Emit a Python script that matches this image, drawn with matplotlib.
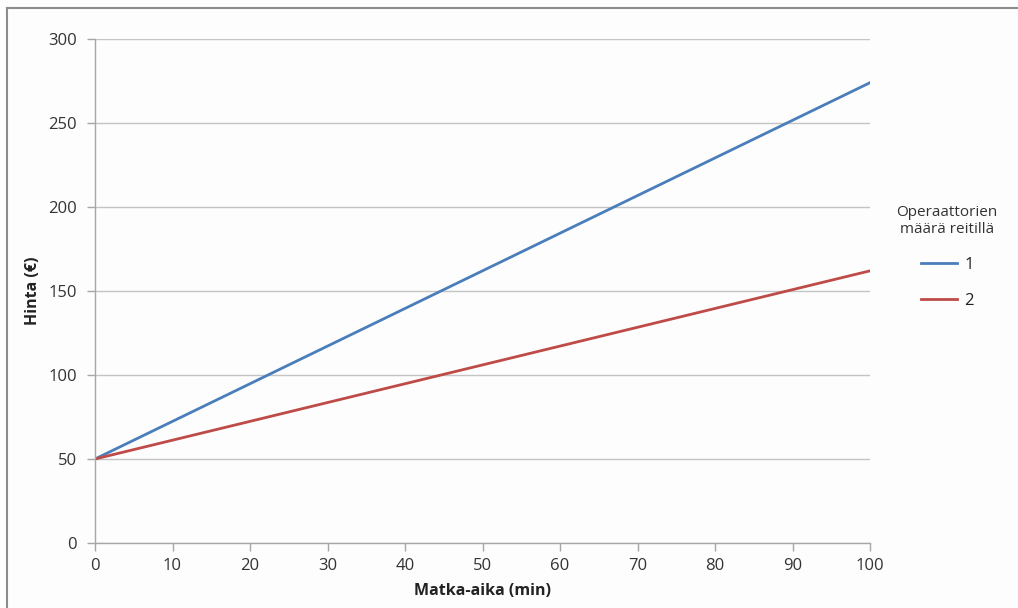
import matplotlib.pyplot as plt
from matplotlib.lines import Line2D

# data (straight lines, endpoints)
matka_aika = [0, 100]
hinta_1 = [50, 274]
hinta_2 = [50, 162]
sarjat = ["1", "2"]
x_ticks = list(range(0, 101, 10))
y_ticks = list(range(0, 301, 50))

plt.rcParams['font.family'] = ['Open Sans', 'DejaVu Sans']

fig = plt.figure(figsize=(10.18, 6.08), dpi=100)
fig.patch.set_facecolor("#fdfdfd")
ax = fig.add_axes([95/1018, 65/608, 775/1018, 504/608])
ax.set_facecolor("#fdfdfd")

# outer chart border (only top and left visible in the reference)
fig.add_artist(Line2D([7/1018, 1.0], [1 - 8/608, 1 - 8/608], color="#8c8c8c", lw=1.5))
fig.add_artist(Line2D([7/1018, 7/1018], [0.0, 1 - 8/608], color="#8c8c8c", lw=1.5))

ax.plot(matka_aika, hinta_1, color="#4a7ebb", lw=2.0, label=sarjat[0])
ax.plot(matka_aika, hinta_2, color="#be4b48", lw=2.0, label=sarjat[1])

ax.set_xlim(0, 100)
ax.set_ylim(0, 300)
ax.set_xticks(x_ticks)
ax.set_yticks(y_ticks)
ax.grid(axis="y", color="#c4c4c4", lw=1.0)
ax.set_axisbelow(True)

for s in ["top", "right"]:
    ax.spines[s].set_visible(False)
for s in ["left", "bottom"]:
    ax.spines[s].set_color("#a6a6a6")
    ax.spines[s].set_linewidth(1.0)
ax.tick_params(axis="both", colors="#a6a6a6", length=6, width=1.0, labelsize=12,
               labelcolor="#333333")
ax.tick_params(axis="y", pad=7)
ax.tick_params(axis="x", pad=5)

ax.set_xlabel("Matka-aika (min)", fontsize=11.5, fontweight="bold", color="#222222", labelpad=6)
ax.set_ylabel("Hinta (€)", fontsize=11.5, fontweight="bold", color="#222222", labelpad=5)

leg = ax.legend(title="Operaattorien\nmäärä reitillä", loc="center left",
                bbox_to_anchor=(1.015, 0.568), frameon=False, fontsize=12,
                title_fontsize=11, handlelength=2.2, handletextpad=0.4,
                labelspacing=1.2)
leg.get_title().set_multialignment("center")
leg.get_title().set_color("#333333")
leg._legend_box.sep = 14
for t in leg.get_texts():
    t.set_color("#222222")

fig.savefig("out.png", dpi=100, facecolor=fig.get_facecolor())
